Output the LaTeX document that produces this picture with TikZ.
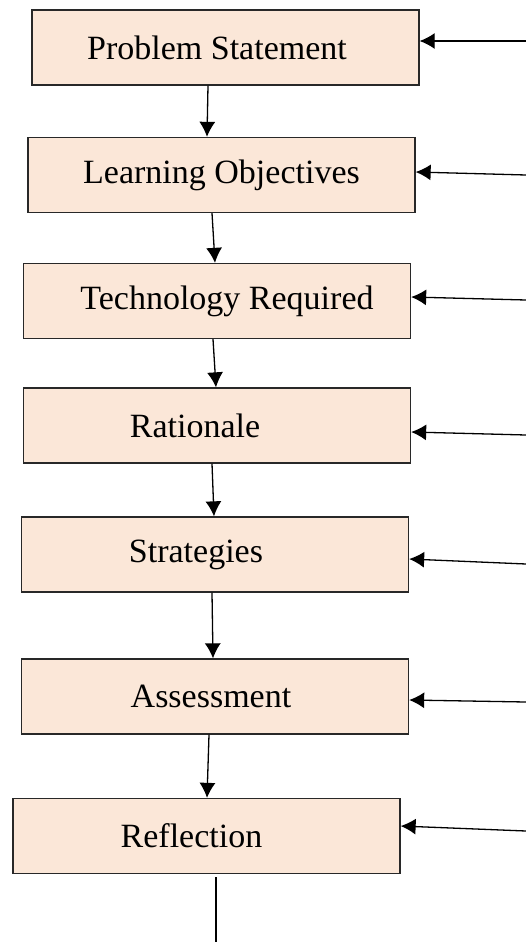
\documentclass[tikz,border=0pt]{standalone}
\usepackage{fontspec}
\setmainfont{Liberation Serif}
\usetikzlibrary{arrows.meta}
\definecolor{peach}{RGB}{251,231,216}
\definecolor{edge}{RGB}{40,40,40}
\newcommand{\nudge}[2]{\hspace*{#1}#2}
\tikzstyle{stage}=[rectangle, draw=edge, line width=1.3pt, fill=peach, minimum width=387pt, minimum height=75pt, font=\fontsize{34}{40}\selectfont]
\tikzstyle{flow}=[-{Latex[length=15pt,width=16pt]}, line width=1.3pt]

\begin{document}
\begin{tikzpicture}[x=1pt,y=-1pt]
  \useasboundingbox (0,0) rectangle (526,942);
  \draw (225.5,47.5) node[stage] (PS) {\nudge{-17pt}{Problem Statement}};
  \draw (221.5,175) node[stage] (LO) {Learning Objectives};
  \draw (217,301) node[stage] (TR) {\nudge{20pt}{Technology Required}};
  \draw (217,425.5) node[stage] (RA) {\nudge{-44pt}{Rationale}};
  \draw (215,554.5) node[stage] (ST) {\nudge{-38pt}{Strategies}};
  \draw (215,696.5) node[stage] (AS) {\nudge{-8pt}{Assessment}};
  \draw (206.5,836) node[stage] (RE) {\nudge{-30pt}{Reflection}};

  %% Down the chain
  \draw[flow] ([xshift=-17.5pt]PS.south) -- ([xshift=-14.5pt]LO.north);
  \draw[flow] ([xshift=-9.5pt]LO.south) -- ([xshift=-2pt]TR.north);
  \draw[flow] ([xshift=-4pt]TR.south) -- ([xshift=-1pt]RA.north);
  \draw[flow] ([xshift=-5pt]RA.south) -- ([xshift=-1pt]ST.north);
  \draw[flow] ([xshift=-3pt]ST.south) -- ([xshift=-2pt]AS.north);
  \draw[flow] ([xshift=-6pt]AS.south) -- ([xshift=0.5pt]RE.north);

  %% Feeds from the right
  \coordinate (F1) at (526,41);
  \coordinate (F2) at (526,175);
  \coordinate (F3) at (526,300);
  \coordinate (F4) at (526,435);
  \coordinate (F5) at (526,564);
  \coordinate (F6) at (526,702);
  \coordinate (F7) at (526,831);
  \draw[flow] (F1) -- ([yshift=6.5pt]PS.east);
  \draw[flow] (F2) -- ([yshift=3pt]LO.east);
  \draw[flow] (F3) -- ([yshift=4pt]TR.east);
  \draw[flow] (F4) -- ([yshift=-6.5pt]RA.east);
  \draw[flow] (F5) -- ([yshift=-4.5pt]ST.east);
  \draw[flow] (F6) -- ([yshift=-3.5pt]AS.east);
  \draw[flow] (F7) -- ([yshift=10pt]RE.east);

  %% Tail
  \coordinate (T) at (216,942);
  \draw[line width=1.3pt] ([xshift=9.5pt,yshift=-3pt]RE.south) -- (T);
\end{tikzpicture}
\end{document}
